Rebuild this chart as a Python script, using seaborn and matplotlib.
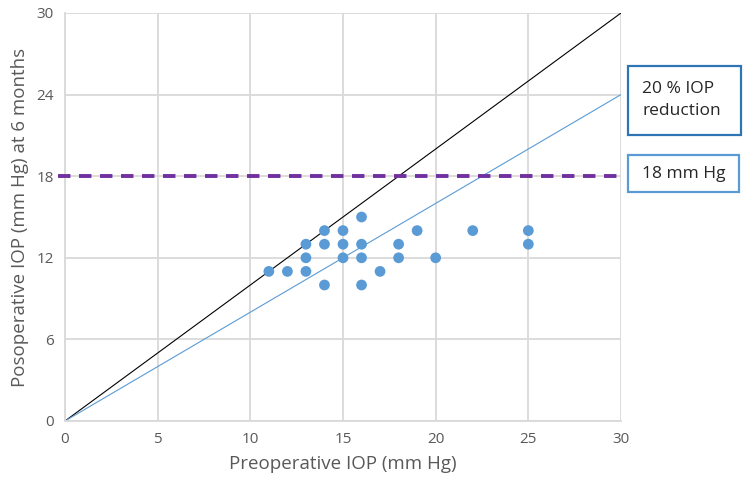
import matplotlib
matplotlib.use("Agg")
import matplotlib.pyplot as plt
from matplotlib.patches import Rectangle
import seaborn as sns
import pandas as pd

pre_iop = [11, 12, 13, 13, 13, 14, 14, 14, 15, 15, 15, 16, 16, 16, 16, 17, 18, 18, 19, 20, 22, 25, 25]
post_iop = [11, 11, 11, 12, 13, 14, 13, 10, 14, 13, 12, 15, 13, 12, 10, 11, 13, 12, 14, 12, 14, 14, 13]
x_ticks = [0, 5, 10, 15, 20, 25, 30]
y_ticks = [0, 6, 12, 18, 24, 30]
identity_x = [0, 30]
identity_y = [0, 30]
reduction_x = [0, 30]
reduction_y = [0, 24]
threshold = 18
box_labels = ["20 % IOP\nreduction", "18 mm Hg"]

sns.set_theme(style="white")
plt.rcParams['font.family'] = ['Open Sans', 'DejaVu Sans']
text_col = "#595959"
grid_col = "#d9d9d9"

W, H = 750, 488
fig = plt.figure(figsize=(7.5, 4.88), dpi=100)
ax = fig.add_axes([65/W, 1 - 421/H, (621-65)/W, (421-13)/H])

df = pd.DataFrame({"pre": pre_iop, "post": post_iop})

ax.set_xlim(0, 30)
ax.set_ylim(0, 30)
ax.set_xticks(x_ticks)
ax.set_yticks(y_ticks)
ax.grid(True, color=grid_col, linewidth=1.3)
ax.set_axisbelow(True)
for s in ["top", "right"]:
    ax.spines[s].set_visible(False)
for s in ["left", "bottom"]:
    ax.spines[s].set_color(grid_col)
    ax.spines[s].set_linewidth(1.3)

sns.lineplot(x=identity_x, y=identity_y, color="black", linewidth=0.8, ax=ax, zorder=2)
sns.lineplot(x=reduction_x, y=reduction_y, color="#5b9bd5", linewidth=0.8, ax=ax, zorder=2)
ax.plot([-0.4, 30], [threshold, threshold], color="#7030a0", linewidth=2.8,
        linestyle=(0, (3.2, 2.2)), clip_on=False, zorder=3)
sns.scatterplot(data=df, x="pre", y="post", color="#5b9bd5", s=60, edgecolor="none", ax=ax, zorder=4)

ax.tick_params(axis="both", colors=text_col, labelsize=11, length=0, pad=8)
ax.set_xlabel("Preoperative IOP (mm Hg)", fontsize=13.5, color=text_col, labelpad=6)
ax.set_ylabel("Posoperative IOP (mm Hg) at 6 months", fontsize=13.5, color=text_col, labelpad=5)

def fig_box(x0, y0, x1, y1, ec):
    fig.add_artist(Rectangle((x0/W, 1 - y1/H), (x1-x0)/W, (y1-y0)/H, transform=fig.transFigure,
                             facecolor="white", edgecolor=ec, linewidth=1.6))

fig_box(628, 66, 741, 135, "#2e75b6")
fig_box(628, 155, 739, 192, "#5b9bd5")
fig.text(642/W, 1 - 100/H, box_labels[0], fontsize=12.5, color="#262626", va="center", ha="left",
         linespacing=1.45)
fig.text(642/W, 1 - 174/H, box_labels[1], fontsize=12.5, color="#262626", va="center", ha="left")

fig.savefig("out.png", dpi=100)
